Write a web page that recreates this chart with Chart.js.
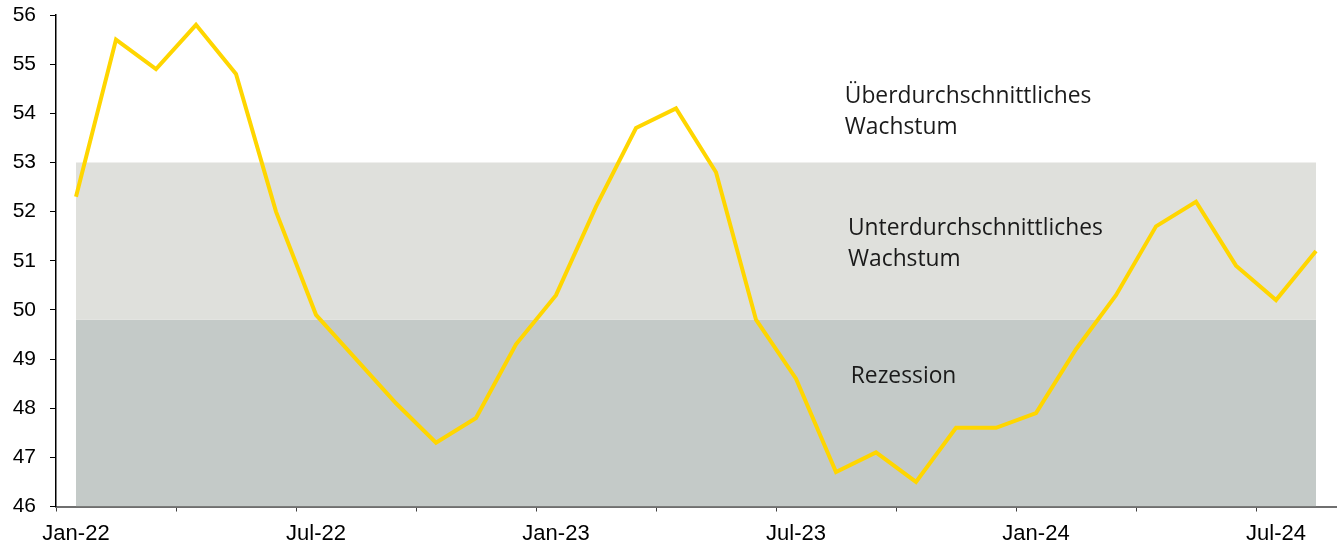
<!DOCTYPE html>
<html>
<head>
<meta charset="utf-8">
<script src="https://cdn.jsdelivr.net/npm/chart.js@4/dist/chart.umd.min.js"></script>
<style>
    html, body { margin: 0; padding: 0; background: #fff; }
    #chart { display: block; }
</style>
</head>
<body>
<canvas id="chart" width="1337" height="551"></canvas>
<script>
// Monthly categories, Jan-22 .. Aug-24
const months = [
    'Jan-22', 'Feb-22', 'Mar-22', 'Apr-22', 'May-22', 'Jun-22', 'Jul-22', 'Aug-22', 'Sep-22', 'Oct-22', 'Nov-22', 'Dec-22',
    'Jan-23', 'Feb-23', 'Mar-23', 'Apr-23', 'May-23', 'Jun-23', 'Jul-23', 'Aug-23', 'Sep-23', 'Oct-23', 'Nov-23', 'Dec-23',
    'Jan-24', 'Feb-24', 'Mar-24', 'Apr-24', 'May-24', 'Jun-24', 'Jul-24', 'Aug-24'
];

// Index values
const indexValues = [
    52.3, 55.5, 54.9, 55.8, 54.8, 52.0, 49.9, 49.0, 48.1, 47.3, 47.8, 49.3,
    50.3, 52.1, 53.7, 54.1, 52.8, 49.8, 48.6, 46.7, 47.1, 46.5, 47.6, 47.6,
    47.9, 49.2, 50.3, 51.7, 52.2, 50.9, 50.2, 51.2
];

// Band limits
const upperBand = months.map(() => 53);
const lowerBand = months.map(() => 49.8);

const yTicks = { min: 46, max: 56, step: 1 };

// Band captions: lines, category position, value of first baseline
const captionLines = [
    ['Überdurchschnittliches', 'Wachstum'],
    ['Unterdurchschnittliches', 'Wachstum'],
    ['Rezession']
];
const captionX = [19.22, 19.3, 19.37];
const captionY = [54.2, 51.52, 48.52];

const captionPlugin = {
    id: 'captions',
    afterDatasetsDraw(chart) {
        const ctx = chart.ctx;
        const xs = chart.scales.x;
        const ys = chart.scales.y;
        ctx.save();
        ctx.font = '22.8px "Open Sans"';
        ctx.fillStyle = '#1a1a1a';
        ctx.textAlign = 'left';
        ctx.textBaseline = 'alphabetic';
        captionLines.forEach((lines, i) => {
            const x = xs.getPixelForValue(captionX[i]);
            const y = ys.getPixelForValue(captionY[i]);
            lines.forEach((line, j) => ctx.fillText(line, x, y + j * 31));
        });
        ctx.restore();
    }
};

new Chart(document.getElementById('chart'), {
    type: 'line',
    data: {
        labels: months,
        datasets: [
            {
                label: 'index',
                data: indexValues,
                borderColor: '#FFD600',
                borderWidth: 4,
                pointRadius: 0,
                fill: false,
                tension: 0,
                order: 0
            },
            {
                label: 'upper',
                data: upperBand,
                borderWidth: 0,
                pointRadius: 0,
                backgroundColor: '#dfe0dc',
                fill: '+1',
                order: 1
            },
            {
                label: 'lower',
                data: lowerBand,
                borderWidth: 0,
                pointRadius: 0,
                backgroundColor: '#c4cac8',
                fill: 'start',
                order: 2
            }
        ]
    },
    options: {
        responsive: false,
        animation: false,
        layout: { padding: { top: 15, right: 1, left: 0, bottom: 0 } },
        plugins: {
            legend: { display: false },
            tooltip: { enabled: false }
        },
        scales: {
            x: {
                offset: true,
                grid: {
                    offset: true,
                    drawOnChartArea: false,
                    drawTicks: true,
                    tickLength: 5,
                    color: (c) => (c.index % 3 === 0 ? '#404040' : 'rgba(0,0,0,0)')
                },
                border: { color: '#6f6f6f', width: 2 },
                ticks: {
                    autoSkip: false,
                    maxRotation: 0,
                    padding: 9,
                    color: '#000',
                    font: { family: '"Liberation Sans", Arial', size: 22 },
                    callback: (v, i) => (i % 6 === 0 ? months[i] : '')
                },
                afterFit: (s) => { s.height = 44.5; }
            },
            y: {
                min: yTicks.min,
                max: yTicks.max,
                grid: {
                    drawOnChartArea: false,
                    drawTicks: true,
                    tickLength: 6,
                    color: '#000'
                },
                border: { color: '#000', width: 1.5 },
                ticks: {
                    stepSize: yTicks.step,
                    padding: 14,
                    color: '#000',
                    font: { family: '"Liberation Sans", Arial', size: 21 }
                },
                afterFit: (s) => { s.width = 56; s.paddingTop = 0; }
            }
        }
    },
    plugins: [captionPlugin]
});
</script>
</body>
</html>
